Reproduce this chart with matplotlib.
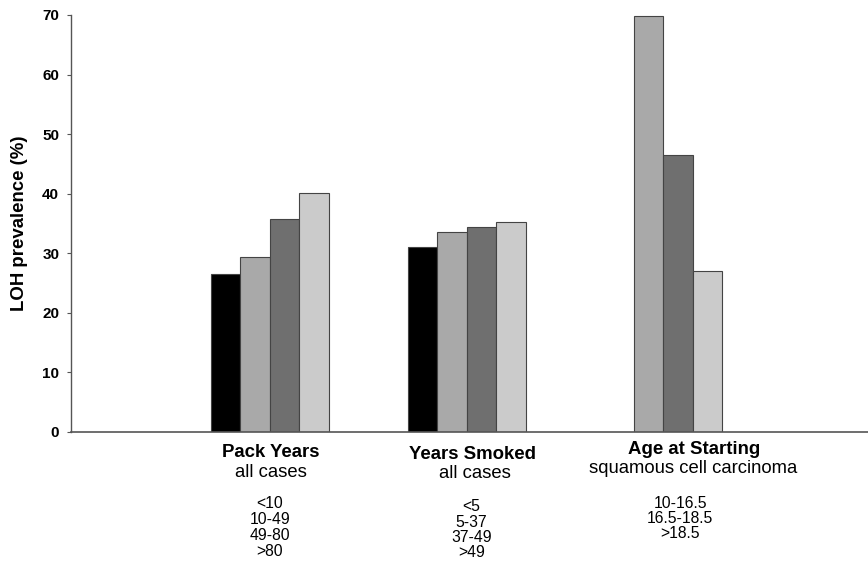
import matplotlib.pyplot as plt
import numpy as np

plt.rcParams['font.family'] = ['Liberation Sans', 'DejaVu Sans']

grupos = ["Pack Years", "Years Smoked", "Age at Starting"]
subtitulos = ["all cases", "all cases", "squamous cell carcinoma"]
rangos = [["<10", "10-49", "49-80", ">80"],
          ["<5", "5-37", "37-49", ">49"],
          ["10-16.5", "16.5-18.5", ">18.5"]]
# una serie por posicion de barra dentro del grupo (nan = sin barra)
serie1 = [26.5, 31.0, np.nan]
serie2 = [29.4, 33.6, 69.8]
serie3 = [35.8, 34.4, 46.5]
serie4 = [40.1, 35.2, 27.0]
colores = ["#000000", "#a9a9a9", "#6f6f6f", "#cbcbcb"]

fig = plt.figure(figsize=(8.68, 5.63), dpi=100)
ax = fig.add_axes([0.0818, 0.2327, 0.9182, 0.7407])

x = np.arange(len(grupos))
ancho = 0.15
for i, (serie, color) in enumerate(zip([serie1, serie2, serie3, serie4], colores)):
    ax.bar(x + (i - 1.5) * ancho, serie, ancho, color=color,
           edgecolor="#444444", linewidth=0.8, zorder=2)

ax.set_xlim(-1.01, 3.04)
ax.set_ylim(0, 70)
ax.set_yticks(range(0, 71, 10))
ax.set_xticks([])
for s in ["top", "right"]:
    ax.spines[s].set_visible(False)
ax.spines["left"].set_color("#555555")
ax.spines["bottom"].set_color("#555555")
ax.spines["left"].set_linewidth(1.0)
ax.spines["bottom"].set_linewidth(1.2)
ax.tick_params(axis="y", length=3, width=0.8, color="#555555", labelsize=11, pad=5.5)
for t in ax.get_yticklabels():
    t.set_fontweight("bold")
ax.set_ylabel("LOH prevalence (%)", fontsize=13.4, fontweight="bold")
ax.yaxis.set_label_coords(-0.054, 0.5)

# etiquetas de grupo debajo del eje (desplazamientos en pixeles)
trans = ax.get_xaxis_transform()
px_y = 1 / 417.0
px_x = 1 / 197.0
dx_tit = [1, 6, 31]
dx_sub = [1, 8, 30]
dx_num = [0, 5, 17]
y_tit = [-21, -23, -18]
y_sub = [-41, -42, -37]
y_num = [-72, -75, -72]
paso = [15.8, 15.3, 15.0]
for i in range(len(grupos)):
    ax.text(i + dx_tit[i] * px_x, y_tit[i] * px_y, grupos[i], transform=trans,
            ha="center", va="center", fontsize=13.4, fontweight="bold")
    ax.text(i + dx_sub[i] * px_x, y_sub[i] * px_y, subtitulos[i], transform=trans,
            ha="center", va="center", fontsize=13.3)
    for j, r in enumerate(rangos[i]):
        ax.text(i + dx_num[i] * px_x, (y_num[i] - paso[i] * j) * px_y, r, transform=trans,
                ha="center", va="center", fontsize=11.3)

fig.savefig("out.png", dpi=100)
